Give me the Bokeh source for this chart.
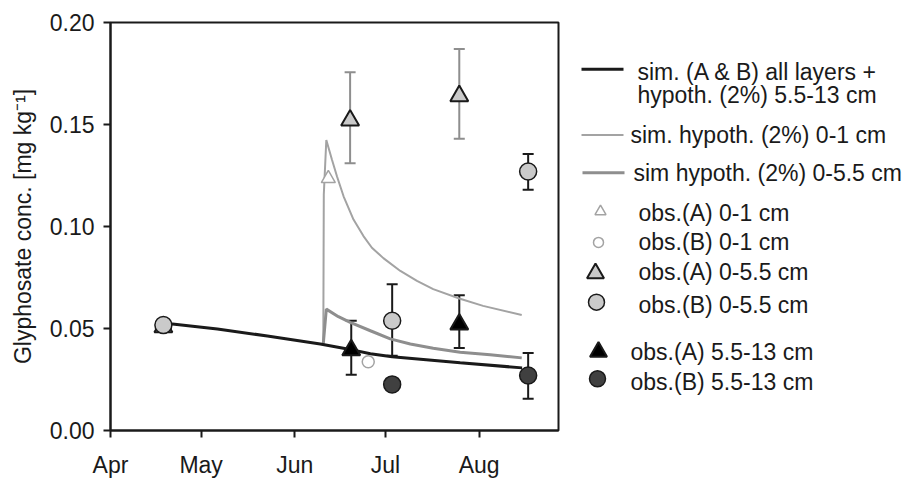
from datetime import datetime
from bokeh.plotting import figure
from bokeh.models import (Range1d, FixedTicker, DatetimeTickFormatter, PrintfTickFormatter,
                          Whisker, TeeHead, ColumnDataSource)
from bokeh.layouts import row
from bokeh.embed import file_html
from bokeh.resources import INLINE
from bokeh.core.properties import value

# ---------------- data ----------------
YEAR = 2010
month_ticks = ["04-01", "05-01", "06-01", "07-01", "08-01"]
x_start = "04-01 00:00"
x_end = "08-27 06:00"
y_ticks = [0.00, 0.05, 0.10, 0.15, 0.20]

# simulated (A & B) all layers + hypoth. (2%) 5.5-13 cm
sim_all_dates = ["04-18 12:00", "04-21 12:00", "05-06 09:00", "05-22 22:00", "06-09 10:00",
                 "06-18 10:00", "06-26 00:00", "07-03 05:00", "07-25 17:00", "08-15 05:00"]
sim_all_vals = [0.0525, 0.0522, 0.0498, 0.0463, 0.0424, 0.0400, 0.0376, 0.0361, 0.0332, 0.0307]

# sim. hypoth. (2%) 0-1 cm
sim_01_dates = ["06-10 10:00", "06-10 14:00", "06-11 10:00", "06-13 07:00", "06-14 23:00",
                "06-17 03:00", "06-20 10:00", "06-23 17:00", "06-26 12:00", "06-30 07:00",
                "07-05 22:00", "07-11 10:00", "07-16 19:00", "07-25 10:00", "08-02 07:00",
                "08-15 02:00"]
sim_01_vals = [0.0426, 0.1156, 0.1424, 0.1327, 0.1245, 0.1148, 0.1034, 0.0953, 0.0896, 0.0845,
               0.0782, 0.0733, 0.0693, 0.0647, 0.0611, 0.0566]

# sim hypoth. (2%) 0-5.5 cm
sim_055_dates = ["06-10 10:00", "06-11 10:00", "06-15 10:00", "06-19 08:00", "06-26 00:00",
                 "07-02 14:00", "07-09 05:00", "07-16 19:00", "07-25 17:00", "08-04 15:00",
                 "08-15 02:00"]
sim_055_vals = [0.0426, 0.0595, 0.0558, 0.053, 0.0489, 0.0449, 0.0424, 0.0403, 0.0384, 0.0371,
                0.0356]

# observations
obsA01_dates = ["06-12 02:00"]
obsA01_vals = [0.1235]
obsB01_dates = ["06-25 07:00"]
obsB01_vals = [0.0337]

obsA055_dates = ["04-18 12:00", "06-19 07:00", "07-25 10:00"]
obsA055_vals = [0.0507, 0.152, 0.164]
obsA055_err_dates = ["06-19 07:00", "07-25 10:00"]
obsA055_err_lo = [0.131, 0.143]
obsA055_err_hi = [0.1756, 0.187]

obsB055_dates = ["04-18 12:00", "07-03 05:00", "08-17 05:00"]
obsB055_vals = [0.0517, 0.0538, 0.127]
obsB055_err_dates = ["07-03 05:00", "08-17 05:00"]
obsB055_err_lo = [0.0366, 0.118]
obsB055_err_hi = [0.0717, 0.1356]

obsA5513_dates = ["06-19 16:00", "07-25 10:00"]
obsA5513_vals = [0.0394, 0.052]
obsA5513_err_lo = [0.0273, 0.0405]
obsA5513_err_hi = [0.0538, 0.0663]

obsB5513_dates = ["07-03 05:00", "08-17 05:00"]
obsB5513_vals = [0.0226, 0.027]
obsB5513_err_dates = ["08-17 05:00"]
obsB5513_err_lo = [0.0156]
obsB5513_err_hi = [0.038]

legend_labels = ["sim. (A & B) all layers +", "hypoth. (2%) 5.5-13 cm",
                 "sim. hypoth. (2%) 0-1 cm", "sim hypoth. (2%) 0-5.5 cm",
                 "obs.(A) 0-1 cm", "obs.(B) 0-1 cm", "obs.(A) 0-5.5 cm", "obs.(B) 0-5.5 cm",
                 "obs.(A) 5.5-13 cm", "obs.(B) 5.5-13 cm"]


def ts(s):
    fmt = "%Y-%m-%d %H:%M" if " " in s else "%Y-%m-%d"
    return datetime.strptime(f"{YEAR}-{s}", fmt)


def ms(s):
    return (ts(s) - datetime(1970, 1, 1)).total_seconds() * 1000.0


def tl(lst):
    return [ts(s) for s in lst]


FONT = "Liberation Sans"
FS = "23px"
INK = "#1a1a1a"
THIN = "#a3a3a3"
MED = "#8e8e8e"
LIGHT = "#cacaca"
DARK = "#404040"

W_MAIN, W_LEG, H = 568, 354, 480
B_LEFT, B_RIGHT, B_TOP, B_BOTTOM = 110, 10, 22, 48

# ---------------- main plot ----------------
p = figure(width=W_MAIN, height=H, x_axis_type="datetime",
           x_range=Range1d(ts(x_start), ts(x_end)), y_range=Range1d(0, 0.2),
           toolbar_location=None, output_backend="svg",
           min_border_left=B_LEFT, min_border_right=B_RIGHT,
           min_border_top=B_TOP, min_border_bottom=B_BOTTOM)
p.background_fill_color = "white"
p.border_fill_color = "white"
p.xgrid.visible = False
p.ygrid.visible = False
p.outline_line_color = INK
p.outline_line_width = 2
p.outline_line_alpha = 1.0

p.xaxis.ticker = FixedTicker(ticks=[ms(m) for m in month_ticks])
p.xaxis.formatter = DatetimeTickFormatter(years="%b", months="%b", days="%b", hours="%b",
                                          hourmin="%b", minutes="%b", minsec="%b",
                                          seconds="%b", milliseconds="%b", microseconds="%b")
p.yaxis.ticker = FixedTicker(ticks=y_ticks)
p.yaxis.formatter = PrintfTickFormatter(format="%.2f")
for ax in (p.xaxis[0], p.yaxis[0]):
    ax.axis_line_width = 2
    ax.axis_line_color = INK
    ax.major_tick_line_width = 2
    ax.major_tick_line_color = INK
    ax.major_tick_out = 7
    ax.major_tick_in = 0
    ax.minor_tick_line_color = None
    ax.major_label_text_font = FONT
    ax.major_label_text_font_size = FS
    ax.major_label_text_color = INK
p.yaxis.major_label_standoff = 9
p.xaxis.major_label_standoff = 14
p.yaxis.axis_label = "Glyphosate conc. [mg kg\u207b\u00b9]"
p.yaxis.axis_label_text_font = FONT
p.yaxis.axis_label_text_font_size = FS
p.yaxis.axis_label_text_font_style = "normal"
p.yaxis.axis_label_text_color = INK
p.yaxis.axis_label_standoff = 11

# simulated lines
p.line(tl(sim_01_dates), sim_01_vals, line_color=THIN, line_width=2)
p.line(tl(sim_055_dates), sim_055_vals, line_color=MED, line_width=3)
p.line(tl(sim_all_dates), sim_all_vals, line_color=INK, line_width=3)


def whisk(dates, lo, hi, color):
    src = ColumnDataSource(dict(x=tl(dates), lo=lo, hi=hi))
    w = Whisker(base="x", lower="lo", upper="hi", source=src, dimension="height",
                line_color=color, line_width=2,
                upper_head=TeeHead(size=11, line_color=color, line_width=2),
                lower_head=TeeHead(size=11, line_color=color, line_width=2),
                level="underlay")
    p.add_layout(w)


whisk(obsA055_err_dates, obsA055_err_lo, obsA055_err_hi, MED)
whisk(obsB055_err_dates, obsB055_err_lo, obsB055_err_hi, INK)
whisk(obsA5513_dates, obsA5513_err_lo, obsA5513_err_hi, INK)
whisk(obsB5513_err_dates, obsB5513_err_lo, obsB5513_err_hi, INK)

# observed markers
p.scatter(tl(obsA01_dates), obsA01_vals, marker="triangle", size=14,
          fill_color="white", line_color=THIN, line_width=1.5)
p.scatter(tl(obsB01_dates), obsB01_vals, marker="circle", size=12,
          fill_color="white", line_color=THIN, line_width=1.5)
p.scatter(tl(obsA055_dates), obsA055_vals, marker="triangle", size=18,
          fill_color=LIGHT, line_color=INK, line_width=2)
p.scatter(tl(obsB055_dates), obsB055_vals, marker="circle", size=17,
          fill_color=LIGHT, line_color=INK, line_width=1.5)
p.scatter(tl(obsA5513_dates), obsA5513_vals, marker="triangle", size=18,
          fill_color="black", line_color=INK, line_width=2)
p.scatter(tl(obsB5513_dates), obsB5513_vals, marker="circle", size=17,
          fill_color=DARK, line_color=INK, line_width=1.5)

# ---------------- legend panel (screen-pixel coordinates) ----------------
lg = figure(width=W_LEG, height=H, x_range=Range1d(W_MAIN, W_MAIN + W_LEG),
            y_range=Range1d(H - B_BOTTOM, B_TOP),
            toolbar_location=None, output_backend="svg",
            x_axis_location=None, y_axis_location=None,
            min_border_left=0, min_border_right=0,
            min_border_top=B_TOP, min_border_bottom=B_BOTTOM)
lg.outline_line_color = None
lg.grid.visible = False
lg.background_fill_color = "white"
lg.border_fill_color = "white"

# legend line swatches
lg.line([581, 623], [69, 69], line_color=INK, line_width=3)
lg.line([581, 623], [135, 135], line_color=THIN, line_width=2)
lg.line([582, 624], [173, 173], line_color=MED, line_width=3)
# legend marker swatches
lg.scatter([600], [212], marker="triangle", size=11, fill_color="white", line_color=THIN, line_width=1.5)
lg.scatter([598], [243], marker="circle", size=10, fill_color="white", line_color=THIN, line_width=1.5)
lg.scatter([595], [274], marker="triangle", size=17, fill_color=LIGHT, line_color=INK, line_width=2)
lg.scatter([596], [303], marker="circle", size=16, fill_color=LIGHT, line_color=INK, line_width=1.5)
lg.scatter([598], [353], marker="triangle", size=17, fill_color="black", line_color=INK, line_width=2)
lg.scatter([597], [380], marker="circle", size=16, fill_color=DARK, line_color=INK, line_width=1.5)

text_x = [637, 637, 630, 633, 638, 638, 638, 638, 630, 630]
text_y = [72, 95, 135, 173, 213, 243, 273, 306, 353, 383]
lg.text(x=text_x, y=text_y, text=legend_labels, text_font=value(FONT), text_font_size=FS,
        text_color=INK, text_baseline="middle", text_align="left")

layout = row(p, lg)
open("out.html", "w").write(file_html(layout, INLINE))
